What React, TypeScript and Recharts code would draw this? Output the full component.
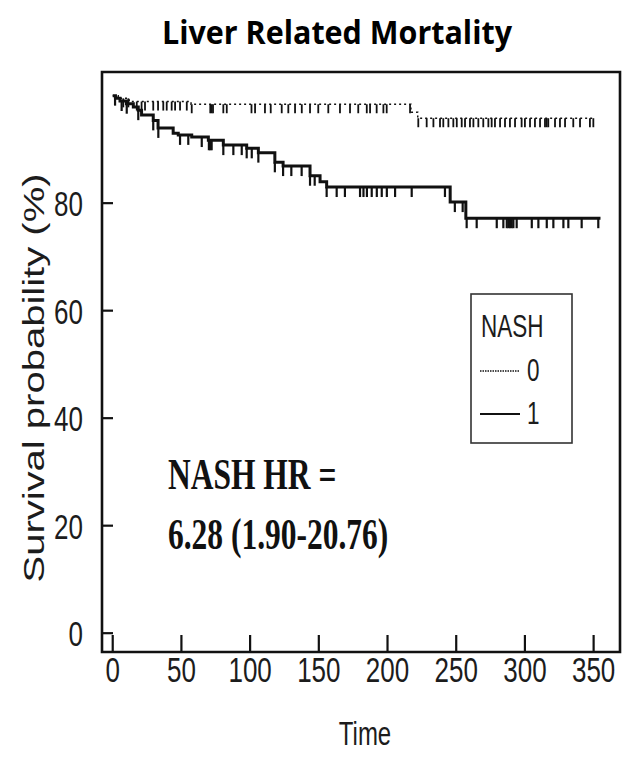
import React from 'react';
import { ComposedChart, Line, Scatter, XAxis, YAxis, ReferenceArea, Legend } from 'recharts';

// axis ticks
const X_TICKS = [0, 50, 100, 150, 200, 250, 300, 350];
const Y_TICKS = [0, 20, 40, 60, 80];

// NASH = 0 (dotted) — step times and survival %
const NASH0_TIMES = [0, 4, 12, 57, 217, 222, 350];
const NASH0_SURV = [100, 99.5, 98.9, 98.4, 96.9, 95.8, 95.8];
const NASH0_CENSOR = [
  1.7, 7.7, 11.4, 17.5, 21, 23.5, 29.5, 33, 36.8, 39.3, 42.9, 45.4, 49, 53.9, 57.5, 71, 72, 73, 80.5, 83,
  101, 103.6, 110.8, 115, 123, 127.8, 132.7, 137.6, 143.6, 149.6, 156.9, 165.4, 172.7, 178.7, 184.9, 187.3,
  192.1, 197, 199.4, 216.4, 222.4, 228.5, 233.4, 238.2, 240.6, 244.3, 247.9, 250.4, 254, 256.4, 260, 262.5,
  266.1, 269.7, 273.4, 275.8, 278.2, 281.9, 285.5, 289.1, 292.8, 297.6, 300, 303.7, 307.3, 311, 314.6, 315.8,
  317, 321.9, 325.5, 329.2, 335.2, 340.1, 347.3, 349.8,
];

// NASH = 1 (solid)
const NASH1_TIMES = [
  0, 2, 5.3, 10, 15, 18.6, 21, 29.5, 33, 44, 47.7, 57.5, 69.6, 80.5, 97.5, 106, 118, 124, 143.6, 150.9,
  155.7, 245.6, 257, 355,
];
const NASH1_SURV = [
  100, 99.5, 99.0, 98.5, 97.9, 97.3, 96.4, 95.4, 94.0, 93.0, 92.7, 92.3, 91.7, 90.8, 90.2, 89.4, 87.6, 86.9,
  85.1, 84.0, 83.0, 80.2, 77.2, 77.2,
];
const NASH1_CENSOR = [
  1.7, 6.5, 10.2, 18.6, 29.5, 33.2, 49, 55, 64.8, 70, 71, 72, 80.5, 87.8, 93.9, 97.5, 101.2, 106, 118, 124,
  130, 137.5, 143.6, 147, 155.7, 163, 169, 180, 182.5, 185, 188.5, 192.2, 195.8, 199.5, 205.5, 217.6, 241.8,
  249, 254.7, 257.6, 264.9, 279.5, 284.3, 286.8, 288, 289.2, 290.4, 291.6, 294, 305, 309.8, 315.9, 320.7,
  328, 331.6, 341.3, 353.4,
];

const STRETCH = 1.38; // the source figure is stretched vertically
const SANS = '"Liberation Sans", Arial, sans-serif';
const SERIF = '"Liberation Serif", "Times New Roman", serif';
const INK = '#111';

const toSteps = (times: number[], surv: number[]) => times.map((t, i) => ({ t, s: surv[i] }));
const survAt = (times: number[], surv: number[], t: number) => {
  let s = surv[0];
  times.forEach((tt, i) => { if (tt <= t) s = surv[i]; });
  return s;
};

const nash0Line = toSteps(NASH0_TIMES, NASH0_SURV);
const nash1Line = toSteps(NASH1_TIMES, NASH1_SURV);
const nash0Marks = NASH0_CENSOR.map((t) => ({ t, s: survAt(NASH0_TIMES, NASH0_SURV, t) }));
const nash1Marks = NASH1_CENSOR.map((t) => ({ t, s: survAt(NASH1_TIMES, NASH1_SURV, t) }));

function XTick({ x, y, payload }: any) {
  return (
    <g>
      <line x1={x} y1={y} x2={x} y2={y - 17} stroke={INK} strokeWidth={2.2} />
      <text transform={`translate(${x},${y + 30}) scale(1,${STRETCH})`} textAnchor="middle"
        fontFamily={SANS} fontSize={26} fill="#1c1c1c">{payload.value}</text>
    </g>
  );
}

function YTick({ x, y, payload }: any) {
  return (
    <g>
      <line x1={x} y1={y} x2={x + 11} y2={y} stroke={INK} strokeWidth={2.2} />
      <text transform={`translate(${x - 19},${y + 13}) scale(1,${STRETCH})`} textAnchor="end"
        fontFamily={SANS} fontSize={26} fill="#1c1c1c">{payload.value}</text>
    </g>
  );
}

const tickMark = (len: number, w: number) => (p: any) => (
  <line x1={p.cx} y1={p.cy} x2={p.cx} y2={p.cy + len} stroke={INK} strokeWidth={w} />
);

const LEGEND = [
  { label: '0', dash: '1.5 1', width: 1.3 },
  { label: '1', dash: undefined, width: 2.2 },
];

function NashLegend() {
  return (
    <svg width={104} height={152} style={{ display: 'block' }}>
      <rect x={1} y={1} width={101} height={149} fill="#fff" stroke="#333" strokeWidth={1.6} />
      <text transform={`translate(11,44) scale(1,${STRETCH})`} fontFamily={SANS} fontSize={22.5} fill="#1c1c1c">NASH</text>
      {LEGEND.map((it, i) => {
        const cy = 78 + i * 43;
        return (
          <g key={it.label}>
            <line x1={10} y1={cy} x2={50} y2={cy} stroke={INK} strokeWidth={it.width} strokeDasharray={it.dash} />
            <text transform={`translate(57,${cy + 10}) scale(1,${STRETCH})`} fontFamily={SANS} fontSize={22.5} fill="#1c1c1c">{it.label}</text>
          </g>
        );
      })}
    </svg>
  );
}

export default function App() {
  return (
    <div style={{ position: 'absolute', left: 0, top: 0, width: 636, height: 771, background: '#fff' }}>
      <ComposedChart width={636} height={771} margin={{ top: 72, right: 16, bottom: 79, left: 42 }}>
        <XAxis
          type="number" dataKey="t" domain={[-7.8, 369.2]} ticks={X_TICKS} allowDataOverflow
          axisLine={false} tickLine={false} tickSize={0} tickMargin={0} tick={XTick} height={40}
          label={{
            content: ({ viewBox }: any) => (
              <text transform={`translate(${viewBox.x + viewBox.width / 2 + 4},${viewBox.y + 93}) scale(1,${STRETCH})`}
                textAnchor="middle" fontFamily={SANS} fontSize={24} fill="#1c1c1c">Time</text>
            ),
          }}
        />
        <YAxis
          type="number" dataKey="s" domain={[-3.5, 104.4]} ticks={Y_TICKS} allowDataOverflow
          axisLine={false} tickLine={false} tickSize={0} tickMargin={0} tick={YTick} width={60}
          label={{
            content: ({ viewBox }: any) => (
              <text transform={`translate(44,${viewBox.y + viewBox.height / 2 + 16}) rotate(-90) scale(${STRETCH},1)`}
                textAnchor="middle" fontFamily={SANS} fontSize={29} fill="#1c1c1c">Survival probability (%)</text>
            ),
          }}
        />
        <ReferenceArea x1={-7.8} x2={369.2} y1={-3.5} y2={104.4} fill="none" stroke={INK} strokeWidth={2.6} />
        <Line data={nash0Line} dataKey="s" type="stepAfter" stroke={INK} strokeWidth={1.5} strokeDasharray="2 3"
          dot={false} activeDot={false} isAnimationActive={false} legendType="none" />
        <Line data={nash1Line} dataKey="s" type="stepAfter" stroke={INK} strokeWidth={3}
          dot={false} activeDot={false} isAnimationActive={false} legendType="none" />
        <Scatter data={nash0Marks} dataKey="s" shape={tickMark(9, 1.8)} isAnimationActive={false} legendType="none" />
        <Scatter data={nash1Marks} dataKey="s" shape={tickMark(10, 2.2)} isAnimationActive={false} legendType="none" />
        <Legend
          layout="horizontal" verticalAlign="middle" align="center" content={() => <NashLegend />}
          wrapperStyle={{ left: 470, top: 293, width: 104, height: 152 }}
        />
      </ComposedChart>
      <svg width={636} height={771} style={{ position: 'absolute', left: 0, top: 0, pointerEvents: 'none' }}>
        <text x={337} y={44} textAnchor="middle" fontFamily='"Open Sans", sans-serif' fontWeight={700}
          fontSize={32} textLength={350} lengthAdjust="spacingAndGlyphs" fill="#000">Liver Related Mortality</text>
        <text transform={`translate(168,489) scale(1,${STRETCH})`} fontFamily={SERIF} fontWeight={700}
          fontSize={31.5} fill="#111">NASH HR =</text>
        <text transform={`translate(168,549) scale(1,${STRETCH})`} fontFamily={SERIF} fontWeight={700}
          fontSize={31.5} fill="#111">6.28 (1.90-20.76)</text>
      </svg>
    </div>
  );
}
